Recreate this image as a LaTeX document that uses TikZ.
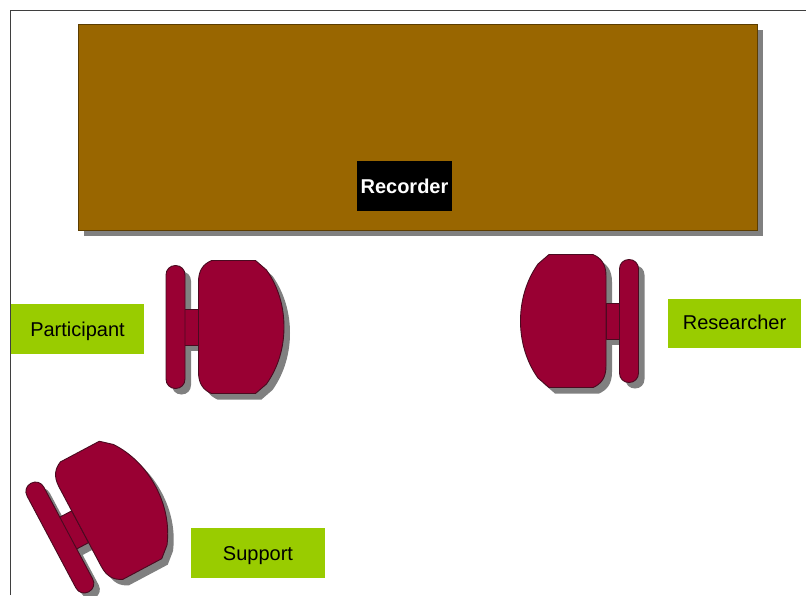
\documentclass[tikz,border=0pt]{standalone}
\usepackage{fontspec}
\setmainfont{Liberation Sans}
\definecolor{tablebrown}{HTML}{996600}
\definecolor{seatred}{HTML}{990033}
\definecolor{labelgreen}{HTML}{99CC00}
\definecolor{shadowgray}{HTML}{808080}
\definecolor{framegray}{HTML}{3F3F3F}
\definecolor{edgedark}{HTML}{4A0A20}
\tikzset{
  labelbox/.style={fill=labelgreen,draw=none,inner sep=0pt,text=black,text height=14.5pt,text depth=0.5pt,font=\fontsize{20}{24}\selectfont},
  chairpart/.style={fill=seatred,draw=edgedark,line width=0.9pt,line join=round},
}
% chair in local coordinates: origin at the middle of the stem, seat towards +x
\newcommand{\chairbar}{(-25.5,-52) .. controls (-25.5,-57.5) and (-21.5,-61.5) .. (-16,-61.5) .. controls (-10.5,-61.5) and (-6.5,-57.5) .. (-6.5,-52) -- (-6.5,52) .. controls (-6.5,57.5) and (-10.5,61.5) .. (-16,61.5) .. controls (-21.5,61.5) and (-25.5,57.5) .. (-25.5,52) -- cycle}
\newcommand{\chairstem}{(-7,-18) rectangle (7,18)}
\newcommand{\chairseat}{(7,-45) .. controls (7,-57) and (12,-63) .. (20,-66.5) -- (64,-66.5) -- (75,-57) .. controls (87,-40) and (92.5,-20) .. (92.5,0) .. controls (92.5,20) and (87,40) .. (75,57) -- (64,66.5) -- (20,66.5) .. controls (12,63) and (7,57) .. (7,45) -- cycle}
\newcommand{\chairdraw}[4]{%
  \begin{scope}[shift={(#1+6,#2+6)},rotate=#3,xscale=#4]
    \fill[shadowgray] \chairbar;
    \fill[shadowgray] \chairseat;
    \fill[shadowgray] \chairstem;
  \end{scope}
  \begin{scope}[shift={(#1,#2)},rotate=#3,xscale=#4]
    \path[chairpart] \chairstem;
    \path[chairpart] \chairbar;
    \path[chairpart] \chairseat;
  \end{scope}}
\begin{document}
\begin{tikzpicture}[x=1pt,y=-1pt]
  \useasboundingbox (0,0) rectangle (806,595);
  \fill[white] (0,0) rectangle (806,595);
  \draw[framegray,line width=1.5pt] (10.5,595) -- (10.5,10.5) -- (806,10.5);
  % table
  \fill[shadowgray] (84,30) rectangle (763,236);
  \node[draw=tablebrown!60!black,line width=0.7pt,fill=tablebrown,minimum width=679pt,minimum height=206pt,inner sep=0pt] (table) at (417.5,127) {};
  \node[fill=black,text=white,inner sep=0pt,minimum width=95pt,minimum height=50pt,font=\fontsize{20}{24}\selectfont\bfseries] (recorder) at (404.5,186) {Recorder};
  % chairs
  \chairdraw{191.5}{327}{0}{1}
  \chairdraw{613}{321}{0}{-1}
  \chairdraw{74}{530}{28}{1}
  % labels
  \node[labelbox,minimum width=133pt,minimum height=50pt] (participant) at (77.5,329) {Participant};
  \node[labelbox,text depth=2.5pt,minimum width=133pt,minimum height=49pt] (researcher) at (734.5,323.5) {Researcher};
  \node[labelbox,minimum width=134pt,minimum height=50pt] (support) at (258,553) {Support};
\end{tikzpicture}
\end{document}
